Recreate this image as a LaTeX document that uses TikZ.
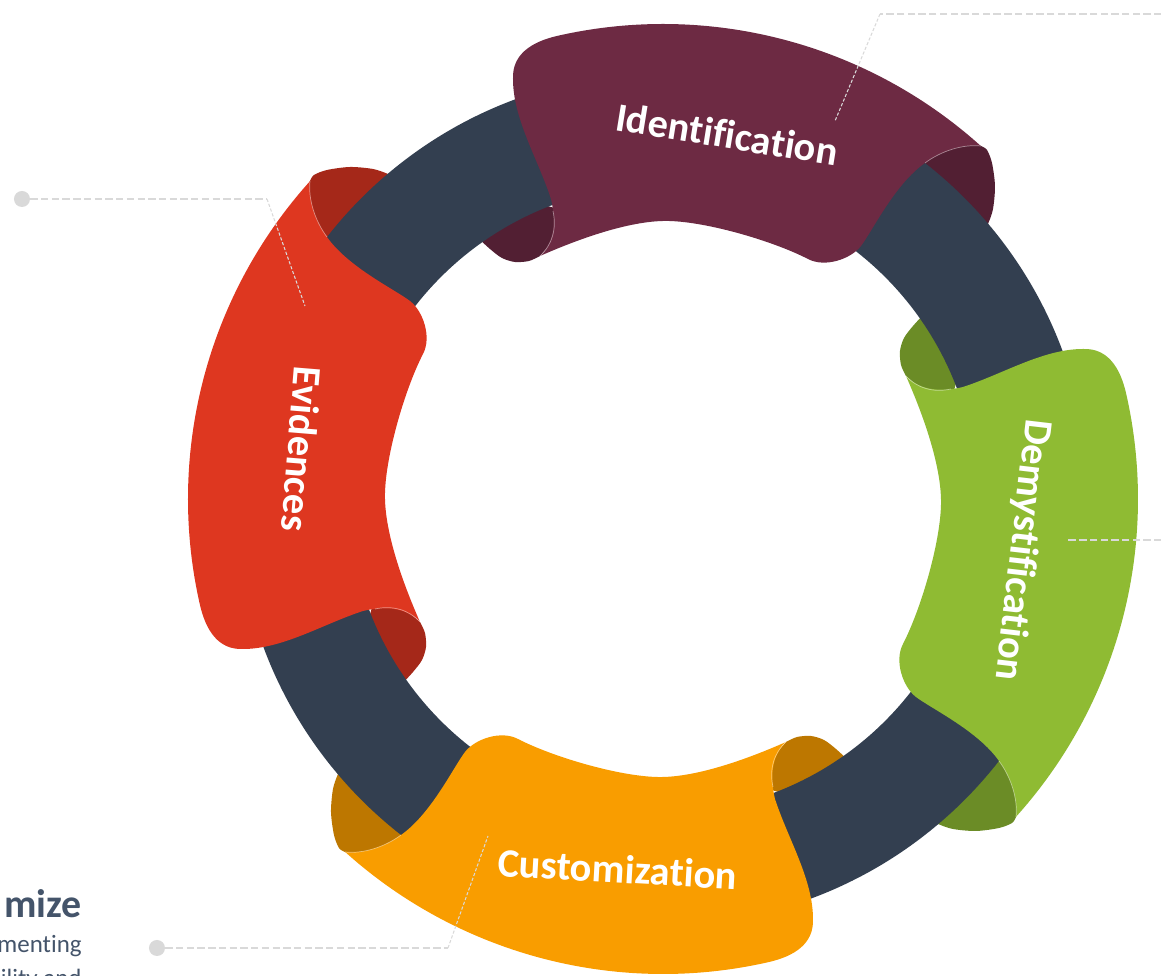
\documentclass[tikz,border=0pt]{standalone}
\usepackage{fontspec}
\setmainfont{Carlito}[Ligatures=NoCommon]
\usepackage{tikz}
\usepackage{xcolor}

\definecolor{ringblue}{HTML}{333F50}
\definecolor{idpurple}{HTML}{6D2A43}
\definecolor{idflap}{HTML}{521F33}
\definecolor{evred}{HTML}{DE3720}
\definecolor{evflap}{HTML}{A52819}
\definecolor{dmgreen}{HTML}{8FBB33}
\definecolor{dmflap}{HTML}{6B8C26}
\definecolor{cuorange}{HTML}{F99D00}
\definecolor{cuflap}{HTML}{BD7700}
\definecolor{leadgray}{HTML}{D9D9D9}
\definecolor{notetext}{HTML}{44546A}

% one ribbon, drawn at the left (Evidences); the others are turned copies
\newcommand{\ribbonbody}{(138:475) arc[start angle=138, end angle=193, radius=475]
  .. controls (-457,-131) and (-445,-151) .. (-420,-150)
  .. controls (-380,-150) and (-340,-125) .. (-300,-112)
  .. controls (-275,-106) and (-255,-110) .. (-243,-123)
  .. controls (-262,-80) and (-279,-30) .. (-278,6)
  .. controls (-277,45) and (-258,110) .. (-240,145)
  .. controls (-231,162) and (-240,188) .. (-253,198)
  .. controls (-269,210) and (-315,232) .. (-336,262)
  .. controls (-348,278) and (-355,300) .. (138:475) -- cycle}
\newcommand{\ribbonflapout}{plot[smooth] coordinates {(-353,318) (-349,324) (-336,329)
  (-313,332) (-290,330) (-275,325) (-255,316)}
  -- (-300,245) -- (-345,258) -- (-362,300) -- cycle}
\newcommand{\ribbonflapin}{plot[smooth] coordinates {(-243,-123) (-238,-134) (-237,-148)
  (-241,-161) (-250,-173) (-262,-186)}
  -- (-300,-140) -- (-290,-105) -- (-260,-108) -- cycle}
% light edges where the ribbon folds over
\newcommand{\ribbonfolds}{(-336,262) .. controls (-348,278) and (-355,300) .. (138:475)
  (-288,-110) .. controls (-270,-106) and (-254,-111) .. (-243,-123)}

\begin{document}
\begin{tikzpicture}[x=0.02cm,y=0.02cm,
    steplabel/.style={text=white,font=\bfseries\fontsize{23pt}{27pt}\selectfont,
      anchor=base,inner sep=0pt},
    foldline/.style={white,opacity=0.45,line width=0.4pt},
    leaddot/.style={circle,fill=leadgray,minimum size=0.32cm,inner sep=0pt},
    leadthick/.style={leadgray,line width=1.5pt,dash pattern=on 4.2pt off 1.9pt},
    leadthin/.style={leadgray,line width=0.6pt,dash pattern=on 1.8pt off 1.1pt},
    notehead/.style={text=notetext,font=\bfseries\fontsize{22.7pt}{27pt}\selectfont,
      anchor=base east,inner sep=0pt},
    notebody/.style={text=notetext,font=\mdseries\fontsize{14.2pt}{17pt}\selectfont,
      anchor=base east,inner sep=0pt}]
  \useasboundingbox (-663,-477) rectangle (498,499);
  \clip (-663,-477) rectangle (498,499);

  % curled ends, under the ring -----------------------------------------------
  \foreach \turn/\flapcol in {0/evflap,-90/idflap,180/dmflap,90/cuflap}{
    \fill[\flapcol,rotate=\turn] \ribbonflapout;
    \fill[\flapcol,rotate=\turn] \ribbonflapin;
  }

  % ring -----------------------------------------------------------------------
  \fill[ringblue,even odd rule] (0,0) circle[radius=426] (0,0) circle[radius=314];

  % ribbons --------------------------------------------------------------------
  \foreach \turn/\bodycol in {0/evred,-90/idpurple,180/dmgreen,90/cuorange}{
    \fill[\bodycol,rotate=\turn] \ribbonbody;
    \draw[foldline,rotate=\turn] \ribbonfolds;
  }

  \node[steplabel,rotate=-9.2]  (idlabel) at (62,351)   {Identification};
  \node[steplabel,rotate=-94.7] (evlabel) at (-375,51)  {Evidences};
  \node[steplabel,rotate=-96.7] (dmlabel) at (348,-50)  {Demystification};
  \node[steplabel,rotate=-3.2]  (culabel) at (-46,-384) {Customization};

  %----------------------------------------------------------------------------%
  %  leader lines  -------------------------------------------------------------%
  \node[leaddot] (evdot) at (-641,300) {};
  \coordinate (evbend) at (-396,300);
  \coordinate (evtip)  at (-358,193);
  \draw[leadthick] (evdot) -- (evbend);
  \draw[leadthin]  (evbend) -- (evtip);

  \coordinate (idfar)  at (520,485);
  \coordinate (idbend) at (217,485);
  \coordinate (idtip)  at (172,378);
  \draw[leadthick] (idfar) -- (idbend);
  \draw[leadthin]  (idbend) -- (idtip);

  \coordinate (dmfar) at (520,-41);
  \coordinate (dmtip) at (405,-41);
  \draw[leadthick] (dmfar) -- (dmtip);

  \node[leaddot] (cudot) at (-506,-449) {};
  \coordinate (cubend) at (-215,-449);
  \coordinate (cutip)  at (-175,-337);
  \draw[leadthick] (cudot) -- (cubend);
  \draw[leadthin]  (cubend) -- (cutip);

  % note, cut by the left border
  \node[notehead] (cuhead)  at (-581,-419) {mize};
  \node[notebody] (cubody)  at (-581,-454) {menting};
  \node[notebody] (cubody2) at (-581,-488) {bility and};
\end{tikzpicture}
\end{document}
